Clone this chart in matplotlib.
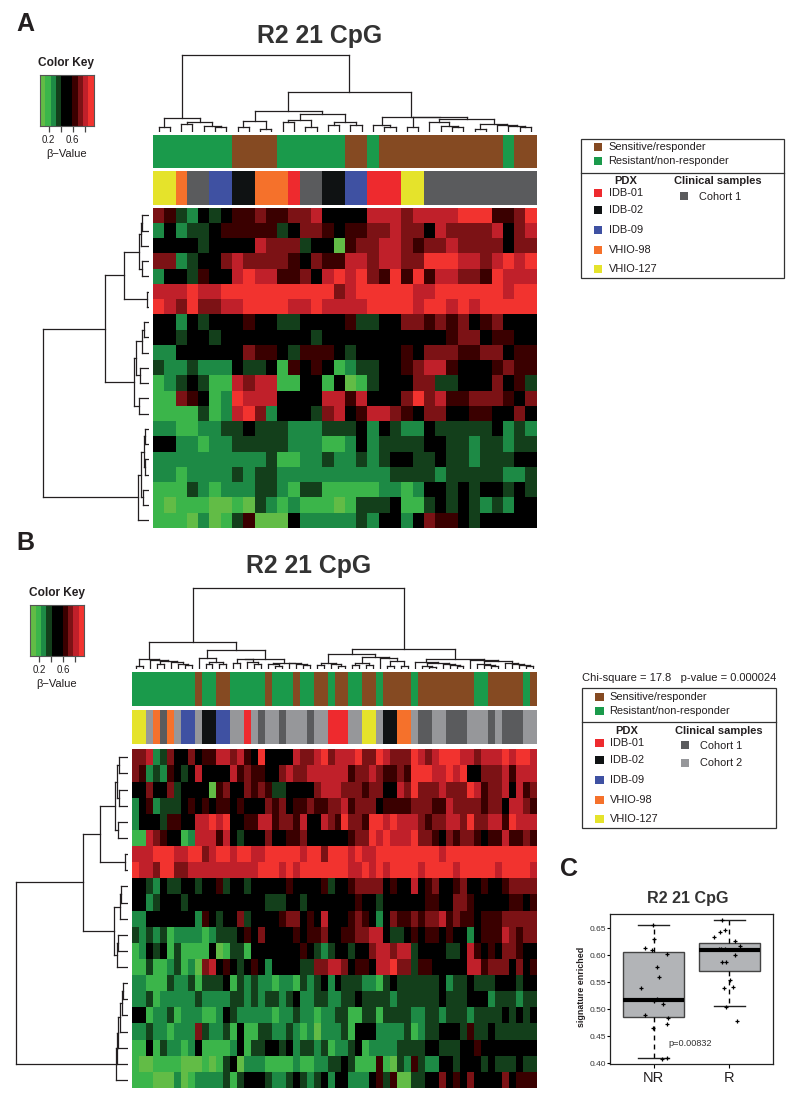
"""
Methylation heatmaps (R2 21 CpG) with dendrograms, sample bars and a boxplot.
"""

import numpy as np
import matplotlib
matplotlib.use('Agg')
import matplotlib.pyplot as plt
from matplotlib.colors import BoundaryNorm, ListedColormap
from matplotlib.patches import Rectangle


# ============== DATA ==============

# Heatmap cells as colour levels, 0 = lightest green, 9 = brightest red
HEAT_A = [
    "7632434667667784444888788889996679",
    "2423346666634776466778774877778478",
    "4444344448777344067788767787777477",
    "7723447877776476688788779998878989",
    "2443644898866748989769696887769888",
    "8889889999999999789999988999999899",
    "9879778899998898888999989989899999",
    "4424344464433444463344776767467444",
    "4434434444444434444444444467746644",
    "2244444476643666434444647776677466",
    "3223222433416464123344678864446766",
    "1234311878811441401344477334447463",
    "1176412988844448868444797866777647",
    "1111312897244437846887647744664474",
    "2211223343332223334243224333334232",
    "4422122333332221124233334433233233",
    "2222222222311223223234433433233344",
    "2212222323322222222223333233333223",
    "1113212223321331111122124434344343",
    "1011100103212111013334113434323244",
    "1110201360004222223244247664344444",
]
HEAT_B = [
    "7782374474" "6688786494" "4448778978" "8897798777" "9878999887" "88898998",
    "7623264348" "4444867664" "4787788888" "8677876676" "9998898944" "77786888",
    "4474473444" "4067447676" "3344447888" "7776774487" "9777877798" "67784867",
    "2462333464" "6466464447" "6746676677" "8677746666" "7776687777" "67748876",
    "2444366448" "8989446688" "6776844876" "9776998988" "8767788797" "78869888",
    "1187644128" "8868434447" "4466744444" "4677989888" "9776476776" "46686676",
    "8889998899" "7899899889" "9999899799" "9898899999" "9999899999" "99999999",
    "9887997788" "8888888899" "9898999999" "9889898999" "9899998999" "99899998",
    "4432433443" "4463443444" "4464444634" "4677774644" "8467446744" "64467777",
    "4423444344" "4444444443" "3344344444" "4464434444" "4466447764" "44446646",
    "2244444442" "6434473444" "4677464844" "4676424766" "7677867664" "66677777",
    "3232312222" "1233346474" "4446466744" "6677884334" "6466464424" "66687677",
    "1243413111" "1401331444" "4444643234" "4344788788" "3444433486" "46477644",
    "1131123120" "7846434642" "4444337788" "7466488977" "3664444488" "67774746",
    "2211132231" "3334132322" "1221323424" "3332213433" "3333423343" "33444344",
    "2231222223" "2222332323" "3234223322" "3343333233" "3333433344" "42333233",
    "4412231222" "1124322222" "1223221223" "3113313333" "2233233323" "33343434",
    "2232212227" "3223141133" "2232120222" "3144422223" "1233444363" "34333333",
    "1141322124" "1111241334" "4342332312" "2341222233" "3344333446" "44444444",
    "1001111000" "1013402221" "1112112233" "4311161032" "6322443444" "34333433",
    "1110002012" "2223134443" "2234323424" "4222463600" "3344746474" "44474666",
]

# Sample annotation bars as (category, number of samples) runs
RESPONSE_A = [("NR", 7), ("S", 4), ("NR", 6), ("S", 2), ("NR", 1), ("S", 11), ("NR", 1), ("S", 2)]
SAMPLE_A = [("V127", 2), ("V98", 1), ("C1", 2), ("I09", 2), ("I02", 2), ("V98", 3), ("I01", 1), ("C1", 2),
            ("I02", 2), ("I09", 2), ("I01", 3), ("V127", 2), ("C1", 10)]
RESPONSE_B = [("NR", 9), ("S", 1), ("NR", 2), ("S", 2), ("NR", 5), ("S", 1), ("NR", 3), ("S", 1), ("NR", 2),
              ("S", 2), ("NR", 1), ("S", 2), ("NR", 2), ("S", 2), ("NR", 1), ("S", 4), ("NR", 1), ("S", 8),
              ("NR", 2), ("S", 5), ("NR", 1), ("S", 1)]
SAMPLE_B = [("V127", 2), ("C2", 1), ("V98", 1), ("C1", 1), ("V98", 1), ("C2", 1), ("I09", 2), ("C2", 1),
            ("I02", 2), ("I09", 2), ("C2", 2), ("I01", 1), ("C2", 1), ("C1", 1), ("C2", 2), ("C1", 1),
            ("C2", 3), ("C1", 1), ("C2", 2), ("I01", 3), ("C2", 2), ("V127", 2), ("C2", 1), ("I02", 2),
            ("V98", 2), ("C2", 1), ("C1", 2), ("C2", 2), ("C1", 3), ("C2", 3), ("C1", 1), ("C2", 1),
            ("C1", 3), ("C2", 2)]

# Dendrograms: a node is (height, left, right), a leaf is L
L = None
PAIR = lambda h: (h, L, L)

COL_TREE_A = (76.7,
    (13.3, PAIR(4.3), (10, PAIR(7.3), (6, L, PAIR(5)))),
    (39.3,
        (21,
            (10.7, PAIR(5), PAIR(2.7)),
            (17.7, (11.7, PAIR(9.3), PAIR(4.3)), (10, PAIR(6.7), PAIR(6.7)))),
        (15,
            (6.7, L, PAIR(4.3)),
            (14.3, PAIR(5),
                (12.7,
                    (10, L, (5.7, L, PAIR(4.3))),
                    (7.3, PAIR(2.7), (6.7, L, (5.7, L, PAIR(5))))))))
)
ROW_TREE_A = (106.3,
    (44.3,
        (25, (10.3, (8, PAIR(7), L), PAIR(7.3)), PAIR(2.3)),
        (14.7, (12.7, (7.3, PAIR(5), L), PAIR(9.3)), PAIR(9.7))),
    (10.7, (8.3, (4.7, PAIR(4), PAIR(4)), PAIR(5.7)), L)
)
COL_TREE_B = (81,
    (27,
        (10.3, PAIR(3.3), (9.3, L, (8.3, PAIR(5.3), (7, L, (5.3, L, PAIR(4)))))),
        (19.3,
            (11.7, L, (7.7, PAIR(5.3), PAIR(5.3))),
            (10.7,
                (10, PAIR(6.7), (7.7, L, PAIR(5.3))),
                (6.7, (5, L, PAIR(3.3)), (6, L, (5.3, L, PAIR(4))))))),
    (20,
        (15.3,
            (6, PAIR(4.3), (5.3, L, PAIR(3.7))),
            (12, (6.7, PAIR(4.3), PAIR(4.3)), (11.7, L, (8.3, PAIR(3.3), PAIR(3.3))))),
        (10,
            (7.7, L,
                (6.7,
                    (3.3, L, PAIR(2)),
                    (5, L, (4.3, L, PAIR(3.3))))),
            (9.3, L,
                (8.3,
                    (5, L, (4.3, L, PAIR(3.3))),
                    (6.7, L, (5.3, L, (4.3, L, PAIR(3.3))))))))
)
ROW_TREE_B = (112.8,
    (45.6,
        (28.3, (13.7, (11.3, PAIR(9.3), PAIR(9.3)), PAIR(10.3)), PAIR(3.3)),
        (14.6, (8.3, PAIR(7.3), L), (11.6, PAIR(10.3), L))),
    (12.3, (11.6, (10.3, (8.3, (6.3, PAIR(5.3), L), L), L), L), L)
)

# Boxplot (panel C)
BOX_STATS = [
    dict(med=0.517, q1=0.485, q3=0.607, whislo=0.409, whishi=0.657, fliers=[]),
    dict(med=0.609, q1=0.571, q3=0.623, whislo=0.506, whishi=0.666, fliers=[]),
]
NR_JITTER = [-.013, .004, -.115, -.018, .176, .04, .07, -.163, .048, 0, .128, -.115, .189, .172, -.004, .181, .11]
NR_VALUES = [.656, .630, .614, .610, .602, .579, .560, .539, .519, .515, .510, .490, .483, .473, .466, .410, .408]
R_JITTER = [-.101, -.198, -.128, -.057, .079, .145, -.137, -.106, -.057, .07, -.101, -.044, .004, -.066, .048,
            -.048, .106]
R_VALUES = [.665, .633, .644, .646, .627, .618, .612, .612, .612, .601, .588, .588, .554, .540, .541, .505, .478]
BOX_LABELS = ["NR", "R"]
BOX_TICKS = [0.40, 0.45, 0.50, 0.55, 0.60, 0.65]

# Legends
RESPONSE_NAMES = ["Sensitive/responder", "Resistant/non-responder"]
PDX_NAMES = ["IDB-01", "IDB-02", "IDB-09", "VHIO-98", "VHIO-127"]
TITLE = "R2 21 CpG"
CHI_TEXT = "Chi-square = 17.8   p-value = 0.000024"
P_TEXT = "p=0.00832"


# ============== STYLE ==============

FIG_W, FIG_H = 800, 1103
INK = '#231F20'
SANS = ['Liberation Sans', 'DejaVu Sans']

HEAT_COLORS = ['#62BC46', '#3BB54A', '#1D8A45', '#133F1B', '#000000',
               '#000000', '#3A0000', '#7C1215', '#C0202A', '#F2332F']
BETA_BREAKS = np.linspace(0.055, 0.95, 11)
HEAT_CMAP = ListedColormap(HEAT_COLORS)
HEAT_NORM = BoundaryNorm(BETA_BREAKS, 10)

CATEGORY_COLORS = {
    'S': '#854A22', 'NR': '#1A9A4B',
    'I01': '#EE2A2E', 'I02': '#0F1213', 'I09': '#3F51A2', 'V98': '#F5712B', 'V127': '#E5E32B',
    'C1': '#5A5B5D', 'C2': '#96979A',
}

plt.rcParams['font.family'] = SANS


# ============== HELPERS ==============

def px_axes(fig, x0, y0, x1, y1):
    """Axes placed by picture pixels (y measured from the top)"""
    return fig.add_axes([x0 / FIG_W, 1 - y1 / FIG_H, (x1 - x0) / FIG_W, (y1 - y0) / FIG_H])


def levels_to_beta(rows):
    """Turn rows of level digits into a beta value matrix (band centres)"""
    levels = np.array([[int(c) for c in r] for r in rows])
    return BETA_BREAKS[levels] + np.diff(BETA_BREAKS)[0] / 2


def tree_segments(node, next_leaf, segs):
    """Walk a nested tree; returns centre position, height. Fills segs with (pos0, h0, pos1, h1)"""
    if node is None:
        pos = next_leaf[0] + 0.5
        next_leaf[0] += 1
        return pos, 0.0
    h, left, right = node
    p0, h0 = tree_segments(left, next_leaf, segs)
    p1, h1 = tree_segments(right, next_leaf, segs)
    segs.append((p0, h0, p0, h))
    segs.append((p1, h1, p1, h))
    segs.append((p0, h, p1, h))
    return (p0 + p1) / 2, h


def draw_col_tree(fig, tree, n, x0, x1, y_base, top_h):
    ax = px_axes(fig, x0, y_base - top_h, x1, y_base)
    segs = []
    tree_segments(tree, [0], segs)
    for p0, h0, p1, h1 in segs:
        ax.plot([p0, p1], [h0, h1], color=INK, lw=0.9, solid_capstyle='projecting')
    ax.set_xlim(0, n)
    ax.set_ylim(0, top_h)
    ax.axis('off')


def draw_row_tree(fig, tree, n, x_base, width, y0, y1):
    ax = px_axes(fig, x_base - width, y0, x_base, y1)
    segs = []
    tree_segments(tree, [0], segs)
    for p0, h0, p1, h1 in segs:
        ax.plot([-h0, -h1], [p0, p1], color=INK, lw=0.9, solid_capstyle='projecting')
    ax.set_xlim(-width, 0)
    ax.set_ylim(n, 0)
    ax.axis('off')


def draw_runs(fig, runs, x0, x1, y0, y1):
    """Annotation bar from (category, count) runs"""
    ax = px_axes(fig, x0, y0, x1, y1)
    start = 0
    for cat, count in runs:
        ax.bar(start, 1, width=count, align='edge', color=CATEGORY_COLORS[cat], linewidth=0)
        start += count
    ax.set_xlim(0, start)
    ax.set_ylim(0, 1)
    ax.axis('off')


def draw_heat(fig, rows, x0, x1, y0, y1):
    ax = px_axes(fig, x0, y0, x1, y1)
    ax.pcolormesh(levels_to_beta(rows), cmap=HEAT_CMAP, norm=HEAT_NORM, linewidth=0, rasterized=True)
    ax.invert_yaxis()
    ax.axis('off')


def draw_key(fig, over, x0, y0):
    """Colour key, x0 / y0 being its top left pixel"""
    ax = px_axes(fig, x0, y0, x0 + 53.7, y0 + 51)
    centres = BETA_BREAKS[:-1] + np.diff(BETA_BREAKS) / 2
    ax.pcolormesh(BETA_BREAKS, [0, 1], centres[np.newaxis, :], cmap=HEAT_CMAP, norm=HEAT_NORM)
    ax.set_yticks([])
    ax.set_xticks([0.2, 0.4, 0.6, 0.8], ['0.2', '', '0.6', ''], fontsize=7, color=INK)
    ax.tick_params(axis='x', length=4.3, width=0.9, color='#444444', pad=2.5)
    for s in ax.spines.values():
        s.set_linewidth(0.8)
        s.set_color('#555555')
    over.text(x0 + 26.5, y0 - 12, 'Color Key', fontsize=8.6, fontweight='bold', ha='center', va='center', color=INK)
    over.text(x0 + 26.5, y0 + 79, '\u03b2\u2212Value', fontsize=8, ha='center', va='center', color=INK)


def draw_legend(over, box, divider, sw_x, sw_txt, resp_y, head_y, pdx_x, pdx_y, clin_x, clin_y, cohorts):
    """Legend box; every argument is a picture pixel position"""
    x0, y0, x1, y1 = box
    over.add_patch(Rectangle((x0, y0), x1 - x0, y1 - y0, fill=False, ec='#333333', lw=0.9))
    over.plot([x0, x1], [divider, divider], color='#333333', lw=0.9)
    for name, cat, y in zip(RESPONSE_NAMES, ['S', 'NR'], resp_y):
        over.add_patch(Rectangle((sw_x, y - 4), 8.5, 8, fc=CATEGORY_COLORS[cat], ec='none'))
        over.text(sw_txt, y, name, fontsize=7.9, va='center', color=INK)
    over.text(sw_x + 31.5, head_y, 'PDX', fontsize=8, fontweight='bold', ha='center', va='center', color=INK)
    over.text(clin_x + 38, head_y, 'Clinical samples', fontsize=8, fontweight='bold', ha='center', va='center',
              color=INK)
    for name, cat, y in zip(PDX_NAMES, ['I01', 'I02', 'I09', 'V98', 'V127'], pdx_y):
        over.add_patch(Rectangle((sw_x, y - 4), 8.5, 8, fc=CATEGORY_COLORS[cat], ec='none'))
        over.text(pdx_x, y, name, fontsize=7.9, va='center', color=INK)
    for (name, cat), y in zip(cohorts, clin_y):
        over.add_patch(Rectangle((clin_x, y - 4), 8.5, 8, fc=CATEGORY_COLORS[cat], ec='none'))
        over.text(clin_x + 19.5, y + 0.7, name, fontsize=7.9, va='center', color=INK)


def draw_box(fig, over):
    ax = px_axes(fig, 610, 914, 773.3, 1064)
    ax.bxp(BOX_STATS, positions=[1, 2], widths=0.803, capwidths=0.41, patch_artist=True, showfliers=False,
           boxprops=dict(facecolor='#B2B4B7', edgecolor='#444444', linewidth=1.0),
           medianprops=dict(color='black', linewidth=3, solid_capstyle='butt'),
           whiskerprops=dict(color='black', linewidth=1.0, linestyle=(0, (3.5, 3))),
           capprops=dict(color='#222222', linewidth=1.0))
    ax.plot(1 + np.array(NR_JITTER), NR_VALUES, '+', color='black', ms=3.5, mew=0.9)
    ax.plot(2 + np.array(R_JITTER), R_VALUES, '+', color='black', ms=3.5, mew=0.9)
    ax.set_xlim(0.422, 2.582)
    ax.set_ylim(0.3987, 0.6765)
    ax.set_yticks(BOX_TICKS, [f'{t:.2f}' for t in BOX_TICKS], fontsize=6, color='#333333')
    ax.set_xticks([1, 2], BOX_LABELS, fontsize=10.5, color=INK)
    ax.tick_params(axis='y', length=2, width=0.8, pad=1)
    ax.tick_params(axis='x', length=3, width=0.8, pad=2)
    for s in ax.spines.values():
        s.set_linewidth(0.9)
        s.set_color('#222222')
    over.text(581.7, 987, 'signature enriched', fontsize=6.4, fontweight='bold', rotation=90,
              ha='center', va='center', color=INK)
    over.text(668.3, 1043.7, P_TEXT, fontsize=6.6, va='center', color='#333333')
    over.text(688, 898, TITLE, fontsize=11.6, fontweight='bold', ha='center', va='center', color='#333333')


# ============== FIGURE ==============

def main():
    fig = plt.figure(figsize=(FIG_W / 100, FIG_H / 100), dpi=100)

    # Panel A
    draw_col_tree(fig, COL_TREE_A, 34, 153, 536.7, 131.7, 78)
    draw_runs(fig, RESPONSE_A, 153, 536.7, 135, 168)
    draw_runs(fig, SAMPLE_A, 153, 536.7, 171, 205)
    draw_heat(fig, HEAT_A, 153, 536.7, 207.7, 528)
    draw_row_tree(fig, ROW_TREE_A, 21, 149, 108, 207.7, 528)

    # Panel B
    draw_col_tree(fig, COL_TREE_B, 58, 132.3, 536.7, 669.3, 82)
    draw_runs(fig, RESPONSE_B, 132.3, 536.7, 672, 706)
    draw_runs(fig, SAMPLE_B, 132.3, 536.7, 710, 743.7)
    draw_heat(fig, HEAT_B, 132.3, 536.7, 749.3, 1088)
    draw_row_tree(fig, ROW_TREE_B, 21, 128.3, 114, 749.3, 1088)

    # Overlay in picture pixels, for all loose text
    over = fig.add_axes([0, 0, 1, 1], zorder=5)
    over.set_xlim(0, FIG_W)
    over.set_ylim(FIG_H, 0)
    over.axis('off')
    over.patch.set_alpha(0)

    draw_key(fig, over, 40, 74.7)
    draw_key(fig, over, 30.3, 604.7)

    draw_legend(over, (581, 139.3, 784, 278), 172.7, 593.7, 608.3, (147.3, 161), 180.7, 609.3,
                (193, 210, 230.3, 250.3, 269.3), 679.7, (196,), [('Cohort 1', 'C1')])
    draw_legend(over, (582, 688.3, 775.7, 828.3), 722.3, 595, 609, (697, 710.7), 730.7, 610.3,
                (742.7, 760, 780.3, 800, 819), 680.7, (745, 762.7),
                [('Cohort 1', 'C1'), ('Cohort 2', 'C2')])
    over.text(582, 677.7, CHI_TEXT, fontsize=8, va='center', color=INK)

    over.text(320, 36, TITLE, fontsize=17.8, fontweight='bold', ha='center', va='center', color='#333333')
    over.text(309, 566, TITLE, fontsize=17.8, fontweight='bold', ha='center', va='center', color='#333333')
    over.text(25, 24, 'A', fontsize=18, fontweight='bold', ha='center', va='center', color=INK)
    over.text(25, 543, 'B', fontsize=18, fontweight='bold', ha='center', va='center', color=INK)
    over.text(569, 869, 'C', fontsize=18, fontweight='bold', ha='center', va='center', color=INK)

    draw_box(fig, over)

    fig.savefig('out.png', dpi=100, facecolor='white')


if __name__ == '__main__':
    main()
